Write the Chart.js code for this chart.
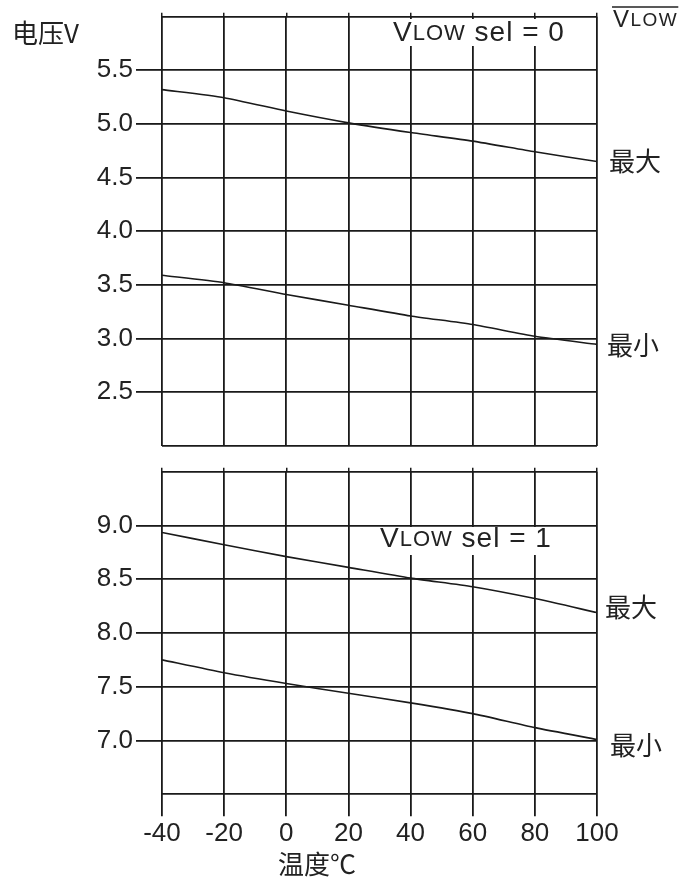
<!DOCTYPE html>
<html>
<head>
<meta charset="utf-8">
<title>VLOW vs temperature</title>
<script src="https://cdn.jsdelivr.net/npm/chart.js@4.4.1/dist/chart.umd.min.js"></script>
<style>
  body { margin: 0; background: #fff; }
  #wrap { position: relative; width: 687px; height: 881px; }
  canvas { position: absolute; left: 0; }
</style>
</head>
<body>
<div id="wrap">
  <canvas id="topChart" width="687" height="460" style="top:0"></canvas>
  <canvas id="bottomChart" width="687" height="421" style="top:460px"></canvas>
</div>
<script>
// Temperature points (°C)
const temps = [-40, -20, 0, 20, 40, 60, 80, 100];

// VLOW sel = 0 (V)
const sel0Max = [5.32, 5.245, 5.12, 5.01, 4.92, 4.84, 4.74, 4.65];
const sel0Min = [3.59, 3.52, 3.41, 3.31, 3.21, 3.13, 3.02, 2.945];

// VLOW sel = 1 (V)
const sel1Max = [8.935, 8.82, 8.71, 8.61, 8.51, 8.43, 8.32, 8.19];
const sel1Min = [7.75, 7.63, 7.53, 7.44, 7.35, 7.25, 7.12, 7.01];

// Axis ranges / ticks
const xRange = [-40, 100];
const topYRange = [2.0, 6.0];
const bottomYRange = [6.5, 9.5];

const INK = '#1a1a1a';
const TEXT = '#222';
const NUM_FONT = '"Liberation Sans", Arial, sans-serif';
const CJK_FONT = '"Noto Sans CJK SC", sans-serif';

function toPoints(values) {
    return temps.map((t, i) => ({ x: t, y: values[i] }));
}

function lineDataset(values) {
    return {
        data: toPoints(values),
        borderColor: INK,
        borderWidth: 1.6,
        pointRadius: 0,
        tension: 0.2,
        fill: false
    };
}

// Draw "VLOW" with a big V and smaller LOW, returns end x
function drawVlow(ctx, x, y, bigSize, smallSize) {
    ctx.font = bigSize + 'px ' + NUM_FONT;
    ctx.fillText('V', x, y);
    x += ctx.measureText('V').width;
    ctx.font = smallSize + 'px ' + NUM_FONT;
    ctx.fillText('LOW', x, y + 1);
    x += ctx.measureText('LOW').width;
    return x;
}

function selLabel(ctx, x, y, text) {
    ctx.letterSpacing = '1px';
    let end = drawVlow(ctx, x, y, 28, 22);
    ctx.font = '28px ' + NUM_FONT;
    ctx.fillText(text, end, y);
    ctx.letterSpacing = '0px';
}

function cjk(ctx, text, x, y, size) {
    ctx.font = size + 'px ' + CJK_FONT;
    ctx.fillText(text, x, y);
}

const textPlugin = {
    id: 'panelText',
    afterDraw(chart, args, opts) {
        const ctx = chart.ctx;
        ctx.save();
        ctx.fillStyle = TEXT;
        ctx.textBaseline = 'middle';
        ctx.textAlign = 'left';
        if (opts.panel === 'top') {
            cjk(ctx, '电压V', 12, 33, 26);
            ctx.fillStyle = '#fff';
            ctx.fillRect(388, 19, 188, 27);
            ctx.fillStyle = TEXT;
            selLabel(ctx, 393, 33, ' sel = 0');
            // overlined VLOW, top right
            ctx.letterSpacing = '1.5px';
            const end = drawVlow(ctx, 613, 20, 24, 19);
            ctx.letterSpacing = '0px';
            ctx.strokeStyle = TEXT;
            ctx.lineWidth = 1.3;
            ctx.beginPath();
            ctx.moveTo(612, 7);
            ctx.lineTo(end, 7);
            ctx.stroke();
            cjk(ctx, '最大', 609, 161, 26);
            cjk(ctx, '最小', 607, 345, 26);
        } else {
            ctx.fillStyle = '#fff';
            ctx.fillRect(375, 67, 186, 28);
            ctx.fillStyle = TEXT;
            selLabel(ctx, 380, 79, ' sel = 1');
            cjk(ctx, '最大', 605, 147, 26);
            cjk(ctx, '最小', 610, 285, 26);
            cjk(ctx, '温度℃', 278, 404, 26);
        }
        ctx.restore();
    }
};

function makeChart(canvasId, panel, yRange, datasets, padTop, showX) {
    const ctx = document.getElementById(canvasId).getContext('2d');
    const yMin = yRange[0], yMax = yRange[1];
    return new Chart(ctx, {
        type: 'line',
        data: { datasets: datasets },
        plugins: [textPlugin],
        options: {
            responsive: false,
            animation: false,
            layout: { padding: { top: padTop, right: 90, left: 0, bottom: 0 } },
            plugins: {
                legend: { display: false },
                tooltip: { enabled: false },
                panelText: { panel: panel }
            },
            scales: {
                x: {
                    type: 'linear',
                    position: 'bottom',
                    min: xRange[0],
                    max: xRange[1],
                    afterFit(scale) {
                        scale.height = showX ? 86.7 : 14.3;
                        scale.paddingLeft = 0;
                        scale.paddingRight = 0;
                    },
                    grid: {
                        color: INK,
                        lineWidth: 1.8,
                        drawTicks: showX,
                        tickLength: 22,
                        tickColor: INK
                    },
                    border: { display: false },
                    ticks: {
                        display: showX,
                        stepSize: 20,
                        padding: 2,
                        color: TEXT,
                        font: { family: NUM_FONT, size: 26 }
                    }
                },
                xTop: {
                    type: 'linear',
                    position: 'top',
                    min: xRange[0],
                    max: xRange[1],
                    afterFit(scale) {
                        scale.height = 4;
                        scale.paddingLeft = 0;
                        scale.paddingRight = 0;
                    },
                    grid: {
                        drawOnChartArea: false,
                        tickLength: 4,
                        tickColor: INK,
                        lineWidth: 1.5
                    },
                    border: { display: false },
                    ticks: { display: false, stepSize: 20 }
                },
                y: {
                    type: 'linear',
                    min: yMin,
                    max: yMax,
                    afterFit(scale) {
                        scale.width = 162;
                        scale.paddingTop = 0;
                        scale.paddingBottom = 0;
                    },
                    grid: {
                        color: INK,
                        lineWidth: 1.8,
                        tickLength: 26,
                        tickColor: c => (c.tick && (c.tick.value === yMin || c.tick.value === yMax)) ? 'rgba(0,0,0,0)' : INK
                    },
                    border: { display: false },
                    ticks: {
                        stepSize: 0.5,
                        padding: 3,
                        color: TEXT,
                        font: { family: NUM_FONT, size: 26 },
                        callback: v => (v === yMin || v === yMax) ? '' : v.toFixed(1)
                    }
                }
            }
        }
    });
}

makeChart('topChart', 'top', topYRange,
    [lineDataset(sel0Max), lineDataset(sel0Min)], 12.7, false);
makeChart('bottomChart', 'bottom', bottomYRange,
    [lineDataset(sel1Max), lineDataset(sel1Min)], 7.7, true);
</script>
</body>
</html>
